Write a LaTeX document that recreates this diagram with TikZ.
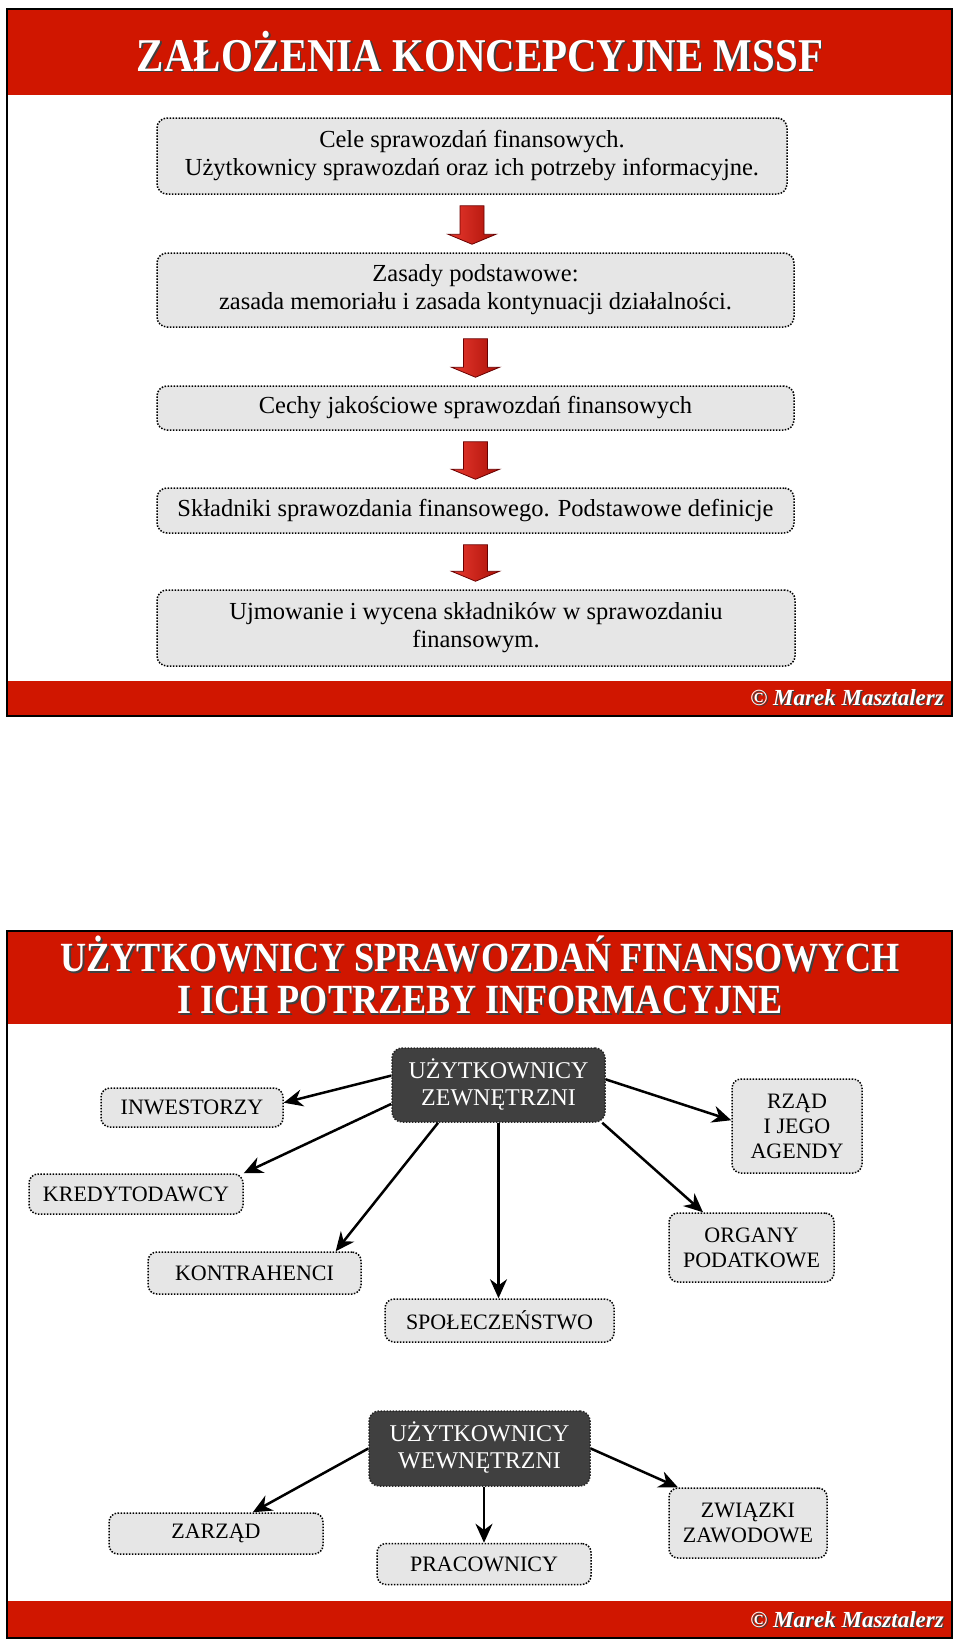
\documentclass[tikz,border=0pt]{standalone}
\usepackage{fontspec}
\setmainfont{Liberation Serif}
\newfontfamily\headfont[FakeStretch=0.87]{Liberation Serif}
\usetikzlibrary{calc,arrows.meta}
\definecolor{bannerred}{RGB}{208,22,0}
\definecolor{boxgray}{RGB}{230,230,230}
\definecolor{userdark}{RGB}{64,64,64}
\definecolor{arrowred}{RGB}{228,22,10}
\definecolor{arrowedge}{RGB}{105,0,0}
\newcommand\shadowtext[1]{\makebox[0pt][l]{\kern1.5pt\raisebox{-1.5pt}{\color{black!75}#1}}#1}
\tikzset{
  frame/.style={draw=black, line width=2.5pt},
  banner/.style={fill=bannerred},
  headtext/.style={text=white, inner sep=0pt, align=center},
  signtext/.style={text=white, inner sep=0pt, anchor=east, font=\bfseries\itshape\fontsize{23}{26}\selectfont},
  topicbox/.style={draw=black, dash pattern=on 1.5pt off 1.5pt, line width=1.5pt, fill=boxgray,
    rounded corners=10pt, inner sep=0pt, align=center, font=\fontsize{24.5}{28}\selectfont},
  groupbox/.style={draw=black, dash pattern=on 1.5pt off 1.5pt, line width=1.5pt, fill=boxgray,
    rounded corners=9pt, inner sep=0pt, align=center, font=\fontsize{22}{25}\selectfont},
  userbox/.style={draw=black!85, dash pattern=on 1.5pt off 1.5pt, line width=1.5pt, fill=userdark,
    rounded corners=10pt, inner sep=0pt, align=center, text=white, font=\fontsize{24}{27}\selectfont},
  link/.style={-{Stealth[length=19pt,width=17pt]}, line width=2.5pt},
  blockarrow/.style={draw=arrowedge, line width=0.8pt, left color=arrowred!85!white, right color=arrowred!75!black},
}
\begin{document}
\begin{tikzpicture}[x=1pt,y=-1pt]
  \useasboundingbox (0,0) rectangle (960,1646);

  % slide 1
  \fill[banner] (7,9) rectangle (952,95);
  \fill[banner] (7,681) rectangle (952,716);
  \draw[frame] (7,9) rectangle (952,716);
  \node[headtext, font=\headfont\bfseries\fontsize{47}{50}\selectfont] (title1) at (480,52)
    {\shadowtext{ZAŁOŻENIA KONCEPCYJNE MSSF}};
  \node[signtext] (sign1) at (944,698) {\shadowtext{© Marek Masztalerz}};

  \node[topicbox, minimum width=630pt, minimum height=76pt] (c1) at (472,156)
    {Cele sprawozdań finansowych.\\Użytkownicy sprawozdań oraz ich potrzeby informacyjne.};
  \node[topicbox, minimum width=637pt, minimum height=74pt] (c2) at (475.5,290)
    {Zasady podstawowe:\\zasada memoriału i zasada kontynuacji działalności.};
  \node[topicbox, minimum width=637pt, minimum height=44pt] (c3) at (475.5,408)
    {Cechy jakościowe sprawozdań finansowych};
  \node[topicbox, minimum width=637pt, minimum height=45pt] (c4) at (475.5,510.5)
    {Składniki sprawozdania finansowego. Podstawowe definicje};
  \node[topicbox, minimum width=638pt, minimum height=76pt] (c5) at (476,628)
    {Ujmowanie i wycena składników w sprawozdaniu\\finansowym.};

  \foreach \a/\b in {c1/c2, c2/c3, c3/c4, c4/c5}
    \path[blockarrow] ($(\a.south)+(-12,11)$) -- ($(\a.south)+(12,11)$)
      -- ($(\a.south |- \b.north)+(12,-18)$) -- ($(\a.south |- \b.north)+(24,-18)$)
      -- ($(\a.south |- \b.north)+(0,-8)$) -- ($(\a.south |- \b.north)+(-24,-18)$)
      -- ($(\a.south |- \b.north)+(-12,-18)$) -- cycle;

  % slide 2
  \fill[banner] (7,931) rectangle (952,1024);
  \fill[banner] (7,1601) rectangle (952,1638);
  \draw[frame] (7,931) rectangle (952,1638);
  \node[headtext, font=\headfont\bfseries\fontsize{41.5}{42}\selectfont] (title2) at (480,976)
    {\shadowtext{UŻYTKOWNICY SPRAWOZDAŃ FINANSOWYCH}\\\shadowtext{I ICH POTRZEBY INFORMACYJNE}};
  \node[signtext] (sign2) at (944,1620) {\shadowtext{© Marek Masztalerz}};

  \node[userbox, minimum width=213pt, minimum height=74pt] (uz) at (498.5,1085)
    {\shadowtext{UŻYTKOWNICY}\\\shadowtext{ZEWNĘTRZNI}};
  \node[groupbox, minimum width=182pt, minimum height=39pt] (inw) at (192,1107.5) {INWESTORZY};
  \node[groupbox, minimum width=214pt, minimum height=40pt] (kred) at (136,1194) {KREDYTODAWCY};
  \node[groupbox, minimum width=213pt, minimum height=42pt] (kon) at (254.5,1273) {KONTRAHENCI};
  \node[groupbox, minimum width=229pt, minimum height=43pt] (spo) at (499.5,1320.5) {SPOŁECZEŃSTWO};
  \node[groupbox, minimum width=165pt, minimum height=69pt] (org) at (751.5,1247.5) {ORGANY\\PODATKOWE};
  \node[groupbox, minimum width=130pt, minimum height=94pt] (rzad) at (797,1126) {RZĄD\\I JEGO\\AGENDY};

  \draw[link] (uz.175) -- (inw.3);
  \draw[link] (uz.190) -- (kred.north east);
  \draw[link] (uz.212) -- (kon.15);
  \draw[link] (uz.south) -- (uz.south |- spo.north);
  \draw[link] (uz.-20) -- (org.144);
  \draw[link] (uz.3) -- (rzad.175);

  \node[userbox, minimum width=221pt, minimum height=75pt] (uw) at (479.5,1448.5)
    {\shadowtext{UŻYTKOWNICY}\\\shadowtext{WEWNĘTRZNI}};
  \node[groupbox, minimum width=214pt, minimum height=41pt] (zar) at (216,1533.5) {ZARZĄD};
  \node[groupbox, minimum width=214pt, minimum height=41pt] (pra) at (484,1564) {PRACOWNICY};
  \node[groupbox, minimum width=158pt, minimum height=70pt] (zw) at (748,1523) {ZWIĄZKI\\ZAWODOWE};

  \draw[link] (uw.180) -- (zar.30);
  \draw[link] (uw.south -| pra.north) -- (pra.north);
  \draw[link] (uw.east) -- (zw.153);
\end{tikzpicture}
\end{document}
